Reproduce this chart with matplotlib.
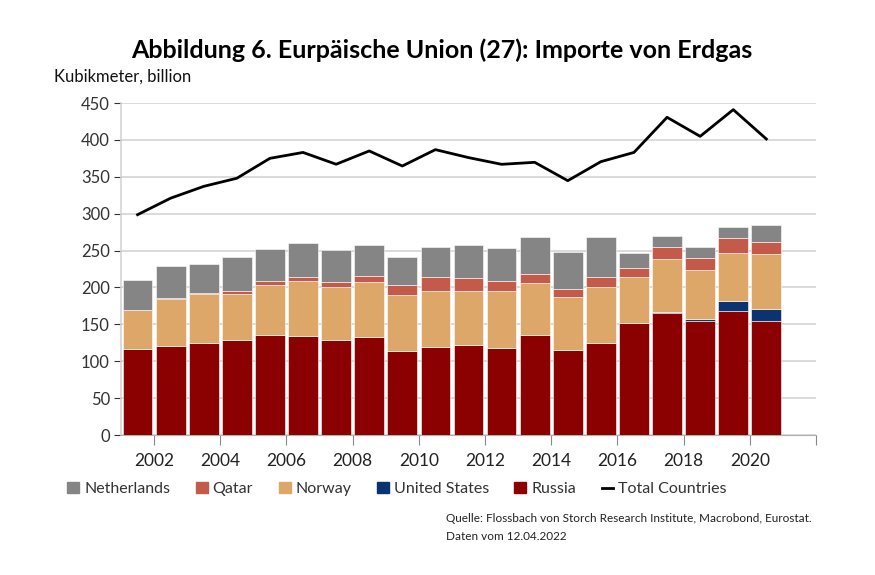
import matplotlib
matplotlib.use("Agg")
import matplotlib.pyplot as plt
from matplotlib.patches import Patch
from matplotlib.lines import Line2D
import numpy as np

years = list(range(2001, 2021))
russia = [117, 120.6, 125, 129, 136, 134.6, 128.8, 133.3, 113.9, 119.7,
          121.5, 117.5, 135, 115.2, 124.2, 152.3, 165.8, 155, 168.5, 155]
united_states = [0, 0, 0, 0, 0, 0, 0, 0, 0, 0,
                 0, 0, 0, 0, 0, 0, 1.4, 2.2, 13.1, 15.3]
norway = [52, 64.4, 65.7, 62.6, 67.8, 74.4, 72.2, 74.5, 76.3, 75.5,
          73.7, 78.1, 71.5, 72.3, 76.8, 62.3, 71.8, 66.4, 65.5, 75.5]
qatar = [0, 1.0, 2.3, 4.0, 4.9, 5.0, 6.8, 7.7, 12.7, 19.4,
         17.6, 13.6, 12.2, 10.4, 12.7, 11.8, 15.4, 15.9, 20.4, 15.8]
netherlands = [41, 42.7, 39, 45.4, 43, 46, 43, 42.5, 38.8, 39.8,
               44.2, 43.8, 50.1, 49.7, 55.1, 20.7, 15.8, 15.8, 14.9, 23]
total = [298.6, 321, 337, 348, 375, 383, 367, 385, 364.6, 386.8,
         376, 366.9, 369.6, 344.7, 370.5, 383, 430.6, 404.8, 441, 401.2]
xtick_labels = ["2002", "2004", "2006", "2008", "2010", "2012", "2014", "2016", "2018", "2020", ""]

c_nl = "#858585"
c_qa = "#C45A4A"
c_no = "#DCA769"
c_us = "#0A3370"
c_ru = "#8B0000"

plt.rcParams['font.family'] = ['Lato', 'DejaVu Sans']

fig = plt.figure(figsize=(8.75, 5.75), dpi=100)
W, H = 875, 575
ax = fig.add_axes([121 / W, 1 - 435 / H, (816 - 121) / W, (435 - 103) / H])

x = np.array(years) + 0.5
ru = np.array(russia); us = np.array(united_states); no = np.array(norway)
qa = np.array(qatar); nl = np.array(netherlands)
bw = 0.9
kw = dict(width=bw, edgecolor="white", linewidth=0.4, zorder=3)
ax.bar(x, ru, color=c_ru, **kw)
ax.bar(x, us, bottom=ru, color=c_us, **kw)
ax.bar(x, no, bottom=ru + us, color=c_no, **kw)
ax.bar(x, qa, bottom=ru + us + no, color=c_qa, **kw)
ax.bar(x, nl, bottom=ru + us + no + qa, color=c_nl, **kw)
ax.plot(x, total, color="black", linewidth=2, zorder=4)

ax.set_xlim(2001, 2022)
ax.set_ylim(0, 450)
ax.set_yticks(range(0, 451, 50))
ax.set_xticks(range(2002, 2023, 2))
ax.set_xticklabels(xtick_labels)
ax.grid(axis="y", color="#d4d4d4", linewidth=1.2, zorder=0)
for s in ["top", "right"]:
    ax.spines[s].set_visible(False)
ax.spines["left"].set_color("#d4d4d4")
ax.spines["bottom"].set_color("#b0b0b0")
ax.spines["left"].set_linewidth(1.2)
ax.tick_params(axis="y", length=5, color="#333333", labelsize=12, labelcolor="#333333", pad=3)
ax.tick_params(axis="x", length=7, color="#888888", labelsize=12.5, labelcolor="#222222", pad=6)

fig.text(442 / W, 1 - 50 / H, "Abbildung 6. Eurpäische Union (27): Importe von Erdgas",
         ha="center", va="center", fontsize=18, fontweight="bold", color="black")
fig.text(54 / W, 1 - 77 / H, "Kubikmeter, billion", ha="left", va="center",
         fontsize=12, color="#111111")

handles = [Patch(color=c_nl, label="Netherlands"), Patch(color=c_qa, label="Qatar"),
           Patch(color=c_no, label="Norway"), Patch(color=c_us, label="United States"),
           Patch(color=c_ru, label="Russia"),
           Line2D([0], [0], color="black", linewidth=2, label="Total Countries")]
fig.legend(handles=handles, loc="center left", bbox_to_anchor=(53 / W, 1 - 489 / H),
           ncol=6, frameon=False, fontsize=11.5, handlelength=0.75, handleheight=0.75,
           handletextpad=0.3, columnspacing=1.6, labelcolor="#333333")

fig.text(446 / W, 1 - 518 / H, "Quelle: Flossbach von Storch Research Institute, Macrobond, Eurostat.",
         ha="left", va="center", fontsize=8.5, color="#222222")
fig.text(446 / W, 1 - 536 / H, "Daten vom 12.04.2022",
         ha="left", va="center", fontsize=8.5, color="#222222")

fig.savefig("out.png", dpi=100)
